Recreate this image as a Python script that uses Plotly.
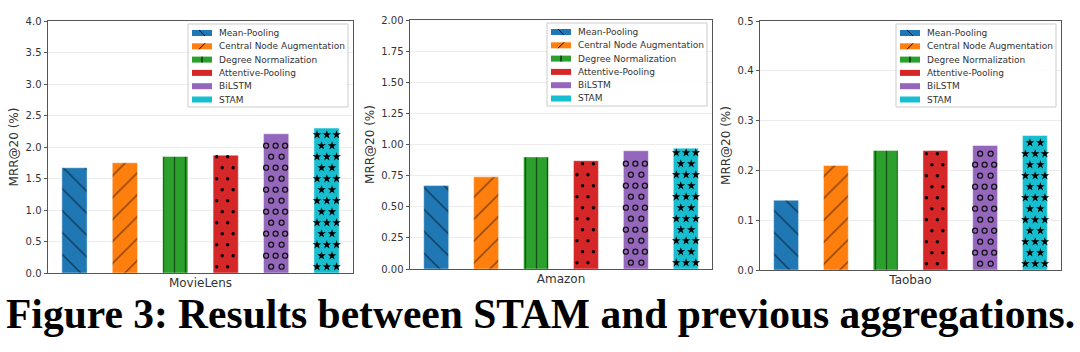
import plotly.graph_objects as go

W, H = 1080, 352

methods = ["Mean-Pooling", "Central Node Augmentation", "Degree Normalization",
           "Attentive-Pooling", "BiLSTM", "STAM"]
datasets = ["MovieLens", "Amazon", "Taobao"]
movielens_mrr = [1.67, 1.75, 1.85, 1.87, 2.21, 2.30]
amazon_mrr = [0.67, 0.74, 0.90, 0.87, 0.95, 0.97]
taobao_mrr = [0.14, 0.21, 0.24, 0.24, 0.25, 0.27]
y_max = [4.0, 2.0, 0.5]
y_dtick = [0.5, 0.25, 0.1]
y_fmt = [".1f", ".2f", ".1f"]
y_title = "MRR@20 (%)"
caption = "Figure 3: Results between STAM and previous aggregations."

series = [movielens_mrr, amazon_mrr, taobao_mrr]

colors = ["#1f77b4", "#ff7f0e", "#2ca02c", "#d62728", "#9467bd", "#17becf"]
patterns = [
    dict(shape="\\", size=15.5, solidity=0.09, fgcolor="black", fillmode="overlay"),
    dict(shape="/", size=15.5, solidity=0.09, fgcolor="black", fillmode="overlay"),
    dict(shape="|", size=11, solidity=0.12, fgcolor="black", fillmode="overlay"),
    None,
    None,
    None,
]

# marker hatches: (bar index, symbol, size, row offsets A, row offsets B, bottom row type, top clearance px)
marker_hatches = [
    (3, "circle", 3.4, [-9, 2], [-3.5, 7.5], 0, 1.0),
    (4, "circle-open", 5, [-10, -0.5, 9], [-5, 5.5], 1, 2.5),
    (5, "star", 6.5, [-9.5, 0.3, 10], [-5, 5.5], 0, 3.0),
]

# plot-area pixel boxes (left, top, right, bottom)
boxes = [(48, 21, 353, 273), (410, 20, 712, 269), (760, 21, 1061, 270)]
BAR_W = 0.5
X_RANGE = [-0.525, 5.525]

fig = go.Figure()
layout = dict(
    width=W, height=H, autosize=False,
    margin=dict(l=0, r=0, t=0, b=0),
    paper_bgcolor="white", plot_bgcolor="white",
    template="none", showlegend=False,
    font=dict(family="DejaVu Sans", color="#333"),
)
shapes = []
annotations = []


def px_x(px):
    return px / W


def px_y(py):
    return 1 - py / H


for p, (name, vals) in enumerate(zip(datasets, series)):
    sfx = "" if p == 0 else str(p + 1)
    l, t, r, b = boxes[p]
    xa, ya = "x" + sfx, "y" + sfx
    ph = b - t
    ppu = (r - l) / (X_RANGE[1] - X_RANGE[0])  # px per x unit
    ymax = y_max[p]

    for i, m in enumerate(methods):
        mk = dict(color=colors[i], line=dict(width=0.8, color="rgba(255,255,255,0.55)"))
        if patterns[i] is not None:
            mk["pattern"] = patterns[i]
        fig.add_trace(go.Bar(x=[i], y=[vals[i]], width=BAR_W, marker=mk, name=m,
                             xaxis=xa, yaxis=ya, hoverinfo="skip"))

    # dot / circle / star hatches
    step = ymax * 11 / ph
    base = ymax * 6.3 / ph
    for i, sym, size, offA, offB, start, clear in marker_hatches:
        xs, ys = [], []
        k = 0
        while base + k * step <= vals[i] - ymax * clear / ph:
            yv = base + k * step
            offs = offA if (k + start) % 2 == 0 else offB
            for o in offs:
                xs.append(i + o / ppu)
                ys.append(yv)
            k += 1
        if sym == "circle-open":
            mk = dict(symbol=sym, size=size, color="#151515", line=dict(width=1.3))
        else:
            mk = dict(symbol=sym, size=size, color="#000", line=dict(width=0))
        fig.add_trace(go.Scatter(x=xs, y=ys, mode="markers", marker=mk,
                                 xaxis=xa, yaxis=ya, hoverinfo="skip", cliponaxis=True))

    layout["xaxis" + sfx] = dict(
        domain=[px_x(l), px_x(r)], range=X_RANGE, anchor=ya,
        showticklabels=False, ticks="", showgrid=False, zeroline=False,
        showline=True, mirror=True, linecolor="#555", linewidth=1,
        title=dict(text=name, standoff=5.5, font=dict(size=12, color="#333")),
        automargin=False, fixedrange=True,
    )
    layout["yaxis" + sfx] = dict(
        domain=[px_y(b), px_y(t)], range=[0, ymax], anchor=xa,
        dtick=y_dtick[p], tick0=0, tickformat=y_fmt[p],
        ticks="outside", ticklen=3.5, tickwidth=0.8, tickcolor="#555",
        tickfont=dict(size=10, color="#333"),
        showgrid=True, gridcolor="#ececec", gridwidth=1, zeroline=False,
        showline=True, mirror=True, linecolor="#555", linewidth=1,
        title=dict(text=y_title, standoff=4, font=dict(size=12, color="#333")),
        automargin=False, fixedrange=True,
    )

    # legend (drawn manually to match the compact matplotlib legend)
    bl, bt, br, bb = r - 165, t + 3, r - 5, t + 86
    shapes.append(dict(type="rect", xref="paper", yref="paper",
                       x0=px_x(bl), x1=px_x(br), y0=px_y(bb), y1=px_y(bt),
                       line=dict(color="#cccccc", width=1),
                       fillcolor="rgba(255,255,255,0.85)", layer="above"))
    for i, m in enumerate(methods):
        ry = bt + 9 + 13.3 * i
        sx0, sx1 = bl + 4, bl + 24
        shapes.append(dict(type="rect", xref="paper", yref="paper",
                           x0=px_x(sx0), x1=px_x(sx1), y0=px_y(ry + 3), y1=px_y(ry - 3),
                           line=dict(width=0), fillcolor=colors[i], layer="above"))
        cx = (sx0 + sx1) / 2
        seg = None
        if i == 0:
            seg = (cx - 3, ry - 3, cx + 3, ry + 3)
        elif i == 1:
            seg = (cx - 3, ry + 3, cx + 3, ry - 3)
        elif i == 2:
            seg = (cx, ry - 3, cx, ry + 3)
        if seg:
            shapes.append(dict(type="line", xref="paper", yref="paper",
                               x0=px_x(seg[0]), y0=px_y(seg[1]), x1=px_x(seg[2]), y1=px_y(seg[3]),
                               line=dict(color="black", width=1), layer="above"))
        annotations.append(dict(text=m, xref="paper", yref="paper",
                                x=px_x(bl + 29), y=px_y(ry), xanchor="left", yanchor="middle",
                                showarrow=False, font=dict(size=9, color="#333")))

annotations.append(dict(text=caption, xref="paper", yref="paper",
                        x=0.5, y=px_y(289), xanchor="center", yanchor="top",
                        showarrow=False,
                        font=dict(family="Liberation Serif", size=41.5, color="black", weight="bold")))

layout["shapes"] = shapes
layout["annotations"] = annotations
fig.update_layout(**layout)
fig.write_html("out.html")
